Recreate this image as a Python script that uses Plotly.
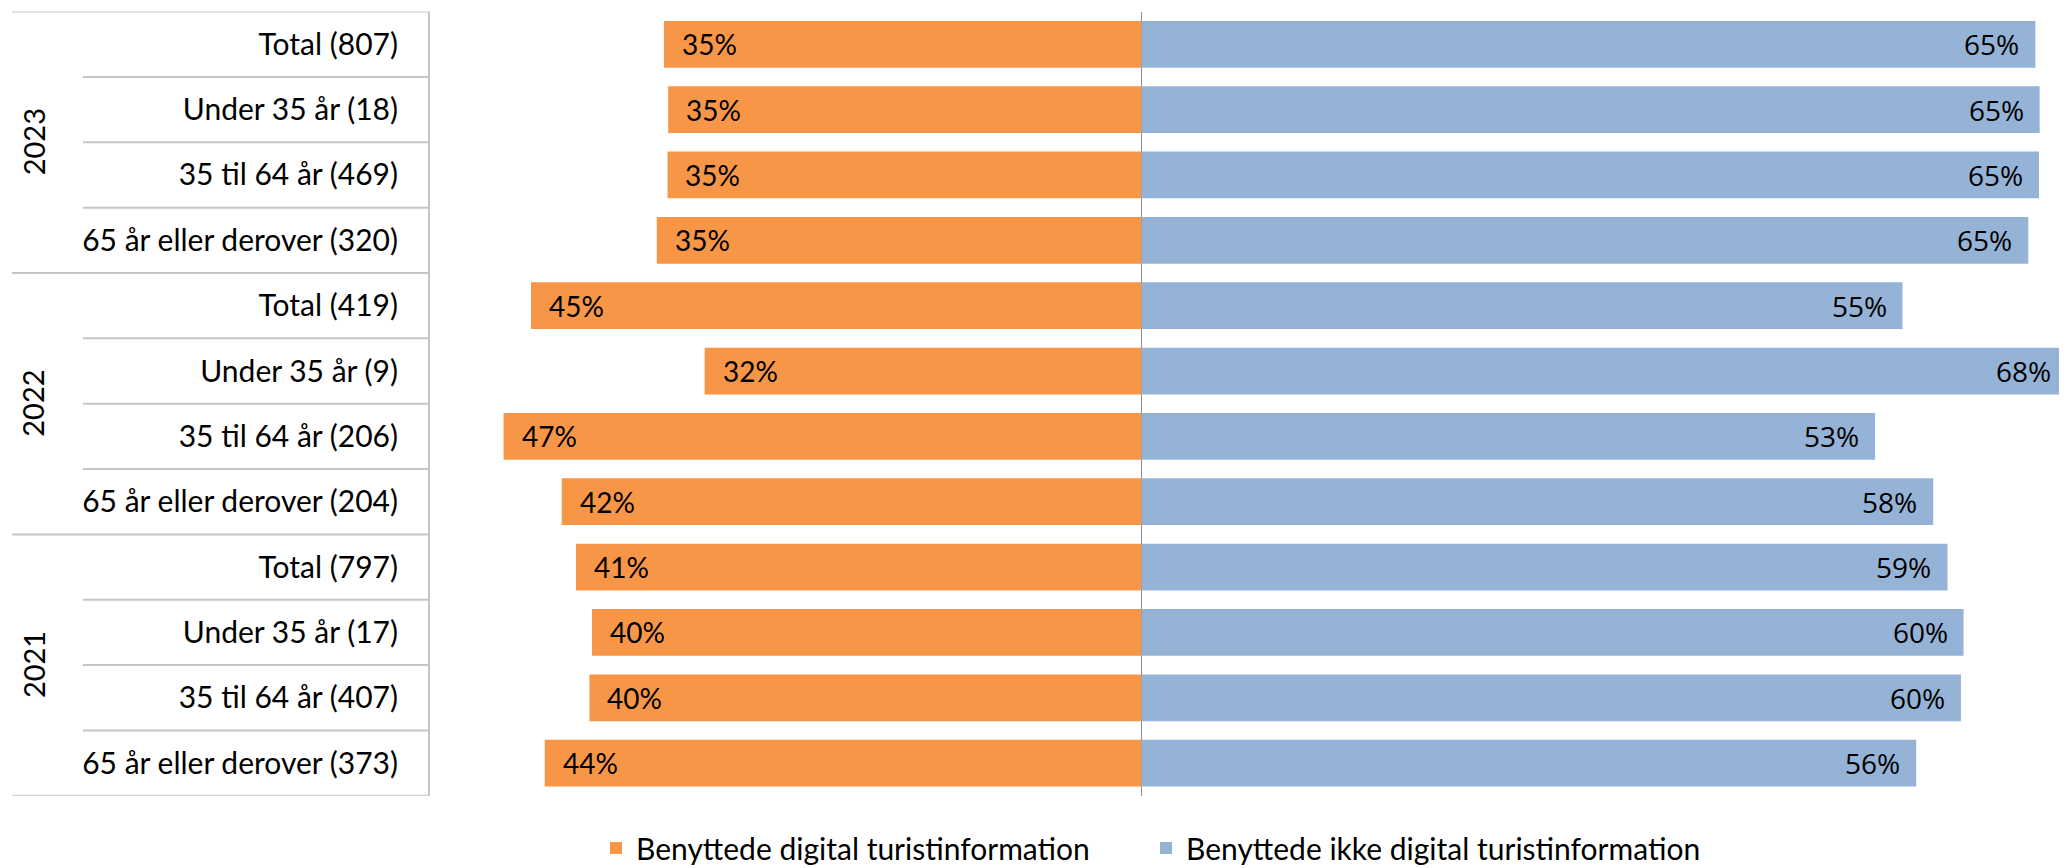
import plotly.graph_objects as go

# ---- data (top row first) ----
years = ["2023", "2022", "2021"]
rows_per_year = 4
categories = [
    "Total (807)", "Under 35 år (18)", "35 til 64 år (469)", "65 år eller derover (320)",
    "Total (419)", "Under 35 år (9)", "35 til 64 år (206)", "65 år eller derover (204)",
    "Total (797)", "Under 35 år (17)", "35 til 64 år (407)", "65 år eller derover (373)",
]
used_digital = [34.83, 34.52, 34.57, 35.35, 44.52, 31.86, 46.52, 42.28, 41.24, 40.07, 40.26, 43.52]
not_used_digital = [65.17, 65.48, 65.43, 64.65, 55.48, 68.14, 53.48, 57.72, 58.76, 59.93, 59.74, 56.48]
series_names = ["Benyttede digital turistinformation", "Benyttede ikke digital turistinformation"]

ORANGE = "#F79646"
BLUE = "#95B3D7"
GRID = "#C6C6C6"
# the page body adds an 8px margin, so the figure is 8px smaller than the window
W, H = 2059, 860
X_MIN, X_MAX = -51.886, 67.474

fig = go.Figure()
fig.add_trace(go.Bar(
    y=categories, x=[-v for v in used_digital], orientation="h",
    name=series_names[0], marker=dict(color=ORANGE, line=dict(width=0)),
    hoverinfo="skip",
))
fig.add_trace(go.Bar(
    y=categories, x=not_used_digital, orientation="h",
    name=series_names[1], marker=dict(color=BLUE, line=dict(width=0)),
    hoverinfo="skip", legendwidth=600,
))

annotations = []
# value labels (anchored at bar ends via the data axis)
for cat, v in zip(categories, used_digital):
    annotations.append(dict(
        text=f"{round(v)}%", xref="x", yref="y", x=-v, y=cat,
        showarrow=False, xanchor="left", yanchor="middle", xshift=16,
        font=dict(family="Lato", size=28, color="#000000"),
    ))
for cat, v in zip(categories, not_used_digital):
    annotations.append(dict(
        text=f"{round(v)}%", xref="x", yref="y", x=min(v, X_MAX), y=cat,
        showarrow=False, xanchor="right", yanchor="middle", xshift=-14,
        font=dict(family="Open Sans", size=28, color="#000000"),
    ))

x_left_px = 422
shapes = []
n = len(categories)
# table horizontal lines
for i in range(n + 1):
    yv = i - 0.5
    full = (i % rows_per_year == 0)
    x0 = (4 if full else 75) / W
    shapes.append(dict(type="line", xref="paper", yref="y", x0=x0, x1=x_left_px / W,
                       y0=yv, y1=yv, line=dict(color=GRID, width=2), layer="above"))

for gi, yr in enumerate(years):
    annotations.append(dict(
        text=yr, xref="paper", yref="y", x=25 / W, y=gi * rows_per_year + (rows_per_year - 1) / 2,
        textangle=-90, showarrow=False, xanchor="center", yanchor="middle",
        font=dict(family="Lato", size=29, color="#000000"),
    ))

fig.update_layout(
    width=W, height=H,
    margin=dict(l=0, r=0, t=0, b=0, autoexpand=False),
    paper_bgcolor="white", plot_bgcolor="white",
    barmode="relative", bargap=0.285,
    shapes=shapes, annotations=annotations,
    showlegend=True,
    legend=dict(orientation="h", x=588 / W, y=(H - 840) / H, xanchor="left", yanchor="middle",
                font=dict(family="Lato", size=30, color="#000000"), entrywidth=505,
                traceorder="normal", bgcolor="rgba(0,0,0,0)"),
    xaxis=dict(domain=[x_left_px / W, 1], range=[X_MIN, X_MAX], showgrid=False,
               showticklabels=False, zeroline=True, zerolinecolor="#8C8C8C", zerolinewidth=1,
               showline=False, fixedrange=True),
    yaxis=dict(domain=[(H - 787.8) / H, (H - 3.6) / H], range=[n - 0.5, -0.5], type="category",
               showgrid=False, showline=True, linecolor=GRID, linewidth=2, ticks="",
               ticklabelstandoff=24,
               tickfont=dict(family="Lato", size=30, color="#000000"), fixedrange=True),
)

fig.write_html("out.html")
